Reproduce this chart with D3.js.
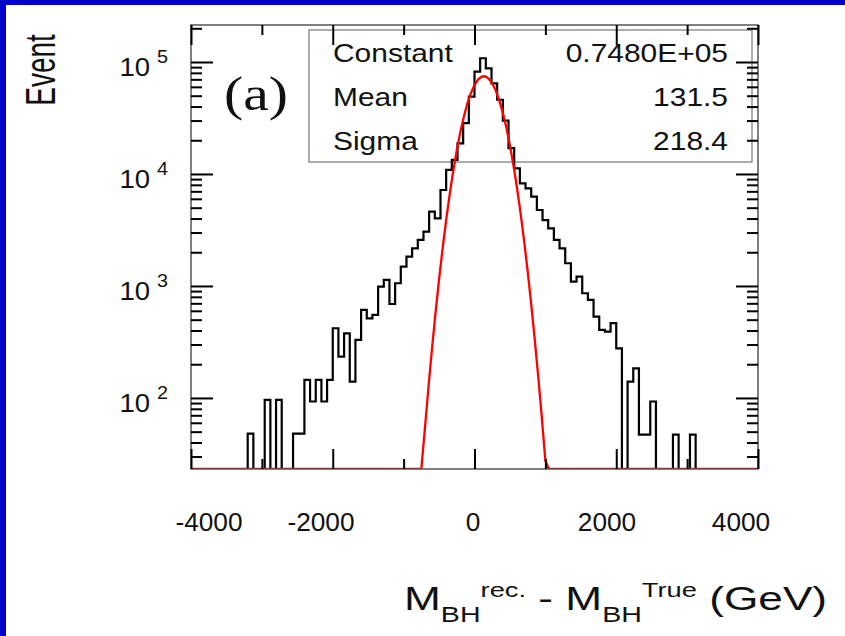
<!DOCTYPE html>
<html>
<head>
<meta charset="utf-8">
<script src="https://cdn.jsdelivr.net/npm/d3@7"></script>
<style>
  body { margin: 0; background: #fff; }
  svg { display: block; }
</style>
</head>
<body>
<div id="chart"></div>
<script>
// histogram: 100 bins of 80 GeV starting at -4000
const binStart = -4000;
const binWidth = 80;
const counts = [
  0, 0, 0, 0, 0, 0, 0, 0, 0, 0,
  48, 0, 0, 96, 0, 96, 0, 0, 48, 48,
  145, 93, 145, 93, 145, 419, 234, 378, 140, 330,
  611, 514, 551, 986, 1132, 690, 1057, 1489, 1829, 2170,
  2576, 3056, 4613, 4020, 7197, 10860, 13340, 18800, 28400, 49000,
  82000, 108000, 87800, 64500, 46000, 30000, 17000, 11240, 8260, 7450,
  6280, 4770, 3880, 3270, 2576, 2170, 1596, 1094, 1211, 861,
  750, 532, 405, 391, 465, 277, 0, 140, 184, 47,
  47, 93, 0, 0, 0, 47, 0, 0, 47, 0,
  0, 0, 0, 0, 0, 0, 0, 0, 0, 0
];

// red fit curve
const fitX = [-4000, -800, -750, -700, -650, -600, -550, -500, -450, -400, -350, -300, -250, -200, -150, -100, -50,
  0, 50, 100, 150, 200, 250, 300, 350, 400, 450, 500, 550, 600, 650, 700, 750, 800, 850, 900, 950, 1000, 1050, 4000];
const fitY = [0, 8.4, 21.7, 53.2, 124, 274, 575, 1144, 2160, 3870, 6582, 10620, 16270, 23640, 32600, 42650, 52950,
  62400, 69780, 74030, 74530, 71200, 64570, 55540, 45350, 35130, 25830, 18020, 11930, 7490, 4467, 2526, 1357, 691, 334, 153, 66.7, 27.5, 10.8, 0];

const xMajorTicks = [-4000, -2000, 0, 2000, 4000];
const xMinorTicks = [-3000, -1000, 1000, 3000];
const xTickLabels = ["-4000", "-2000", "0", "2000", "4000"];
const yDecades = [100, 1000, 10000, 100000];
const yExponents = ["2", "3", "4", "5"];

const statNames = ["Constant", "Mean", "Sigma"];
const statValues = ["0.7480E+05", "131.5", "218.4"];

const W = 845, H = 636;
const frame = {left: 191, right: 758, top: 25, bottom: 469};
const yMin = 23.2, yMax = 2.14e5;
const sans = "'Liberation Sans', Arial, Helvetica, sans-serif";

const svg = d3.select("#chart").append("svg")
  .attr("width", W)
  .attr("height", H);

svg.append("rect").attr("width", W).attr("height", H).attr("fill", "#fff");
// blue slide border
svg.append("rect").attr("x", 0).attr("y", 0).attr("width", W).attr("height", 5).attr("fill", "#0000cc");
svg.append("rect").attr("x", 0).attr("y", 0).attr("width", 6).attr("height", H).attr("fill", "#0000cc");

const x = d3.scaleLinear().domain([-4000, 4000]).range([frame.left, frame.right]);
const y = d3.scaleLog().domain([yMin, yMax]).range([frame.bottom, frame.top]);
// the tick labels sit a little inside the tick positions in the scan
const xLabel = d3.scaleLinear().domain(xMajorTicks).range([209, 321, 473, 607, 741]);

// minor log ticks 2..9 in each decade
const yMinor = [];
[10, 100, 1000, 10000, 100000].forEach(d => {
  for (let k = 2; k <= 9; k++) {
    const v = d * k;
    if (v > yMin && v < yMax) yMinor.push(v);
  }
});

svg.append("defs").append("clipPath").attr("id", "clip")
  .append("rect")
  .attr("x", frame.left).attr("y", frame.top - 1)
  .attr("width", frame.right - frame.left).attr("height", frame.bottom - frame.top + 1);

// stats box
const box = svg.append("g");
box.append("rect")
  .attr("x", 309).attr("y", 30)
  .attr("width", 443).attr("height", 132)
  .attr("fill", "none")
  .attr("stroke", "#777")
  .attr("stroke-width", 1.2);

statNames.forEach((s, i) => {
  const by = 62 + i * 44;
  box.append("text")
    .attr("transform", `translate(333,${by}) scale(1.13,1)`)
    .attr("font-family", sans).attr("font-size", 26.5)
    .attr("fill", "#111")
    .text(s);
  box.append("text")
    .attr("transform", `translate(728,${by}) scale(1.13,1)`)
    .attr("text-anchor", "end")
    .attr("font-family", sans).attr("font-size", 26.5)
    .attr("fill", "#111")
    .text(statValues[i]);
});

// histogram
const pts = counts.map((c, i) => [binStart + i * binWidth, c]);
pts.push([binStart + counts.length * binWidth, counts[counts.length - 1]]);

const histLine = d3.line()
  .x(d => x(d[0]))
  .y(d => y(Math.max(d[1], yMin)))
  .curve(d3.curveStepAfter);

svg.append("path")
  .datum(pts)
  .attr("clip-path", "url(#clip)")
  .attr("d", histLine)
  .attr("fill", "none")
  .attr("stroke", "#000")
  .attr("stroke-width", 2.2);

// fit
const fitLine = d3.line()
  .x(d => x(d[0]))
  .y(d => y(Math.min(Math.max(d[1], yMin), yMax)));

svg.append("path")
  .datum(fitX.map((v, i) => [v, fitY[i]]))
  .attr("clip-path", "url(#clip)")
  .attr("d", fitLine)
  .attr("fill", "none")
  .attr("stroke", "#ff0000")
  .attr("stroke-width", 2.3);

// frame
svg.append("rect")
  .attr("x", frame.left).attr("y", frame.top)
  .attr("width", frame.right - frame.left).attr("height", frame.bottom - frame.top)
  .attr("fill", "none")
  .attr("stroke", "#555")
  .attr("stroke-width", 1.5);

function ticks(axis, tx, ty, values, size) {
  const g = svg.append("g")
    .attr("transform", `translate(${tx},${ty})`)
    .call(axis.tickValues(values).tickSize(-size).tickFormat(""));
  g.select(".domain").remove();
  g.selectAll(".tick line").attr("stroke", "#000").attr("stroke-width", 2);
}

ticks(d3.axisLeft(y), frame.left, 0, yDecades, 22);
ticks(d3.axisLeft(y), frame.left, 0, yMinor, 11);
ticks(d3.axisRight(y), frame.right, 0, yDecades, 22);
ticks(d3.axisRight(y), frame.right, 0, yMinor, 11);
ticks(d3.axisBottom(x), 0, frame.bottom, xMajorTicks, 20);
ticks(d3.axisBottom(x), 0, frame.bottom, xMinorTicks, 10);
ticks(d3.axisTop(x), 0, frame.top, xMajorTicks, 20);
ticks(d3.axisTop(x), 0, frame.top, xMinorTicks, 10);

// y tick labels: 10 with exponent
yDecades.forEach((v, i) => {
  svg.append("text")
    .attr("transform", `translate(150,${y(v) + 14}) scale(1.1,1)`)
    .attr("text-anchor", "end")
    .attr("font-family", sans).attr("font-size", 25)
    .attr("fill", "#111")
    .text("10");
  svg.append("text")
    .attr("transform", `translate(157,${y(v) + 1}) scale(1.1,1)`)
    .attr("font-family", sans).attr("font-size", 18)
    .attr("fill", "#111")
    .text(yExponents[i]);
});

// x tick labels
xMajorTicks.forEach((v, i) => {
  svg.append("text")
    .attr("transform", `translate(${xLabel(v)},531) scale(1.05,1)`)
    .attr("text-anchor", "middle")
    .attr("font-family", sans).attr("font-size", 25)
    .attr("fill", "#111")
    .text(xTickLabels[i]);
});

// (a)
svg.append("text")
  .attr("transform", "translate(224,110) scale(1.2,1)")
  .attr("font-family", "'Liberation Serif', 'Times New Roman', serif")
  .attr("font-size", 48)
  .attr("fill", "#111")
  .text("(a)");

// y title
svg.append("text")
  .attr("transform", "translate(55,70) scale(1.5,1) rotate(-90)")
  .attr("text-anchor", "middle")
  .attr("font-family", sans).attr("font-size", 28)
  .attr("fill", "#111")
  .text("Event");

// x title
const xt = svg.append("text")
  .attr("transform", "translate(404,610) scale(1.3,1)")
  .attr("font-family", sans).attr("font-size", 34)
  .attr("fill", "#111");
xt.append("tspan").text("M");
xt.append("tspan").attr("font-size", 22).attr("dy", 12).text("BH");
xt.append("tspan").attr("font-size", 21).attr("dy", -25).text("rec.");
xt.append("tspan").attr("dy", 13).text(" - M");
xt.append("tspan").attr("font-size", 22).attr("dy", 12).text("BH");
xt.append("tspan").attr("font-size", 21).attr("dy", -25).text("True");
xt.append("tspan").attr("dy", 13).text(" (GeV)");
</script>
</body>
</html>
